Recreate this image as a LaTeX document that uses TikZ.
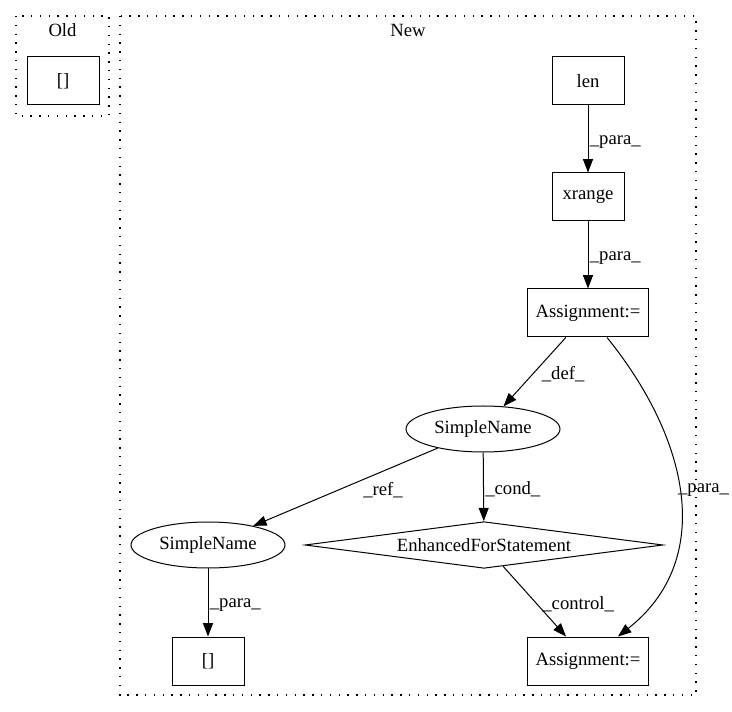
\documentclass[tikz,border=0pt]{standalone}
\usepackage{fontspec}
\setmainfont{Liberation Serif}
\usetikzlibrary{shapes.geometric,arrows.meta}

\tikzstyle{astbox} = [draw, rectangle, line width=0.75pt, minimum width=54pt, minimum height=36pt, inner xsep=6pt]
\tikzstyle{astoval} = [draw, ellipse, line width=0.75pt, minimum width=115.5pt, minimum height=34.5pt, inner sep=0pt]
\tikzstyle{astdiamond} = [draw, diamond, line width=0.75pt, aspect=7.6, minimum width=268.5pt, minimum height=35pt, inner sep=0pt]
\tikzstyle{cluster} = [draw, line width=1.1pt, dash pattern=on 1.1pt off 5.5pt]
\tikzstyle{edge} = [-{Triangle[length=10pt,width=7.5pt]}, line width=0.75pt]
\tikzstyle{lbl} = [inner sep=1pt, anchor=west, yshift=-2pt]

\begin{document}
\begin{tikzpicture}[x=0.75pt, y=-0.75pt, font=\fontsize{14pt}{16pt}\selectfont]
      \useasboundingbox (0,0) rectangle (732,712);
      % clusters
      \draw[cluster] (16,16) rectangle (109,116);
      \draw[cluster] (120,16) rectangle (696,695);
      \node (oldlbl) at (62.5,30) {Old};
      \node (newlbl) at (408,30) {New};
      % nodes
      \node[astbox] (oldarr) at (63,81) {[]};
      \node[astbox] (len) at (588,81) {len};
      \node[astbox] (xrange) at (588,197) {xrange};
      \node[astbox] (assignA) at (588,313) {Assignment:=};
      \node[astoval] (nameA) at (483,429) {SimpleName};
      \node[astoval] (nameB) at (208,545) {SimpleName};
      \node[astdiamond] (forstmt) at (484,545) {EnhancedForStatement};
      \node[astbox] (newarr) at (208,661) {[]};
      \node[astbox] (assignB) at (588,661) {Assignment:=};
      % edges
      \draw[edge] (len) -- (xrange) node[lbl, pos=0.5] {\_para\_};
      \draw[edge] (xrange) -- (assignA) node[lbl, pos=0.5] {\_para\_};
      \draw[edge] (assignA) -- (nameA) node[lbl, pos=0.5, xshift=4pt] {\_def\_};
      \draw[edge] (nameA) -- (nameB) node[lbl, pos=0.5, xshift=12pt] {\_ref\_};
      \draw[edge] (nameA) -- (forstmt) node[lbl, pos=0.5] {\_cond\_};
      \draw[edge] (nameB) -- (newarr) node[lbl, pos=0.5] {\_para\_};
      \draw[edge] (forstmt) -- (assignB) node[lbl, pos=0.5, xshift=4.5pt] {\_control\_};
      \draw[edge] ([xshift=14.25pt]assignA.south) .. controls (690,440) and (715,560) .. ([xshift=22.5pt]assignB.north) node[lbl, pos=0.47, xshift=-2pt] {\_para\_};
    \end{tikzpicture}
\end{document}
